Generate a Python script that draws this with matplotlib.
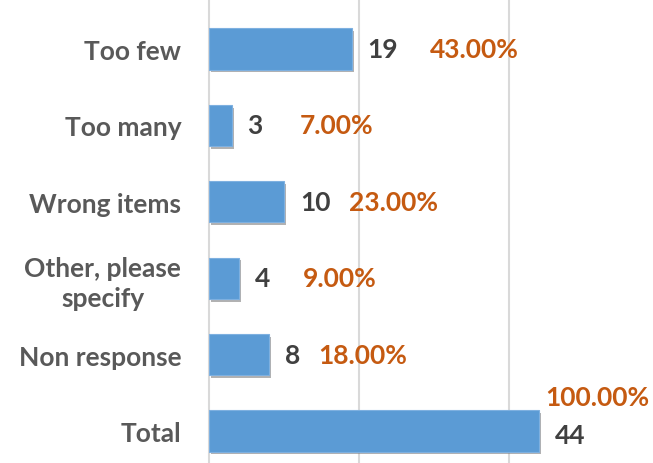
import matplotlib.pyplot as plt
import matplotlib.patheffects as pe

categories = ["Too few", "Too many", "Wrong items", "Other, please\nspecify", "Non response", "Total"]
counts = [19, 3, 10, 4, 8, 44]
pct_labels = ["43.00%", "7.00%", "23.00%", "9.00%", "18.00%", "100.00%"]

# where the orange percentage labels sit (data x, y shift)
pct_x = [29.5, 12.1, 18.7, 12.5, 14.5, 44.8]
pct_dy = [0, 0, 0, 0, 0, -0.45]
num_dy = [0, 0, 0, 0, 0, 0.05]

plt.rcParams['font.family'] = ['Lato', 'DejaVu Sans']
plt.rcParams['font.weight'] = 'bold'

fig = plt.figure(figsize=(6.53, 4.64), dpi=100)
ax = fig.add_axes([209 / 653, 0, 1 - 209 / 653, 1])

ypos = list(range(len(categories)))
bars = ax.barh(ypos, counts, height=0.54, color="#5B9BD5", edgecolor="#7EB0E0",
               linewidth=0.8, zorder=3)
for b in bars:
    b.set_path_effects([pe.SimplePatchShadow(offset=(1.5, -2), shadow_rgbFace="#808080", alpha=0.6),
                        pe.Normal()])

for i, (c, p) in enumerate(zip(counts, pct_labels)):
    ax.text(c + 2.1, i + num_dy[i], str(c), ha="left", va="center",
            fontsize=19, fontweight="bold", color="#404040")
    ax.text(pct_x[i], i + pct_dy[i], p, ha="left", va="center",
            fontsize=19, fontweight="bold", color="#C55A11")

ax.set_xlim(0, 59.2)
ax.set_ylim(5.42, -0.654)
ax.set_xticks([20, 40])
ax.xaxis.grid(True, color="#D9D9D9", linewidth=1.5, zorder=0)
ax.tick_params(axis="x", length=0, labelbottom=False)
ax.tick_params(axis="y", length=0, pad=20)
ax.set_yticks(ypos)
ax.set_yticklabels(categories, fontsize=19, fontweight="bold", color="#595959",
                   linespacing=1.3)
for lbl in ax.get_yticklabels():
    lbl.set_multialignment("center")
for s in ["top", "right", "bottom"]:
    ax.spines[s].set_visible(False)
ax.spines["left"].set_color("#D9D9D9")
ax.spines["left"].set_linewidth(1.5)
ax.set_axisbelow(True)

fig.savefig("out.png", dpi=100)
